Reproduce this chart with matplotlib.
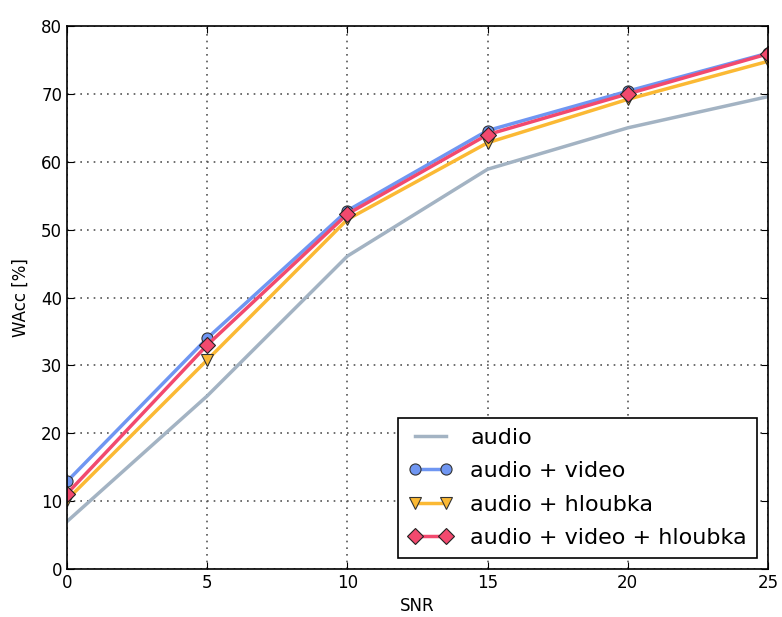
import numpy as np
import matplotlib
matplotlib.use("Agg")
import matplotlib.pyplot as plt

snr = [0, 5, 10, 15, 20, 25]
audio = [7.0, 25.5, 46.1, 58.9, 65.0, 69.6]
audio_video = [12.9, 34.0, 52.8, 64.6, 70.4, 76.0]
audio_hloubka = [10.2, 30.8, 51.5, 62.8, 69.2, 74.8]
audio_video_hloubka = [11.1, 33.0, 52.3, 64.0, 70.0, 75.9]

fig = plt.figure(figsize=(7.82, 6.17), dpi=100)
ax = fig.add_axes([0.0857, 0.0778, 0.8963, 0.880])

ax.plot(snr, audio, '-', color='#a3b3c3', lw=2.5, label='audio')
ax.plot(snr, audio_video, '-o', color='#6f96f2', lw=2.5, ms=8,
        mec='#333333', mew=0.8, label='audio + video')
ax.plot(snr, audio_hloubka, '-v', color='#fbb934', lw=2.5, ms=8,
        mec='#333333', mew=0.8, label='audio + hloubka')
ax.plot(snr, audio_video_hloubka, '-D', color='#f2496e', lw=2.5, ms=8,
        mec='#222222', mew=0.8, label='audio + video + hloubka')

ax.set_xlim(0, 25)
ax.set_ylim(0, 80)
ax.set_xticks(snr)
ax.set_yticks(np.arange(0, 81, 10))
ax.grid(True, color='#555555', linestyle=(0, (1, 3)), linewidth=1.2)
ax.tick_params(labelsize=12, direction='in', length=5, top=True, right=True)
ax.set_xlabel("SNR", fontsize=12)
ax.set_ylabel("WAcc [%]", fontsize=12, labelpad=8)
for s in ax.spines.values():
    s.set_linewidth(1.2)

leg = ax.legend(loc='lower right', fontsize=16, numpoints=2, fancybox=False,
                framealpha=1, edgecolor='black', borderpad=0.45,
                handlelength=2.0, labelspacing=0.6, borderaxespad=0.5)
leg.get_frame().set_linewidth(1.2)

fig.savefig("out.png", dpi=100)
